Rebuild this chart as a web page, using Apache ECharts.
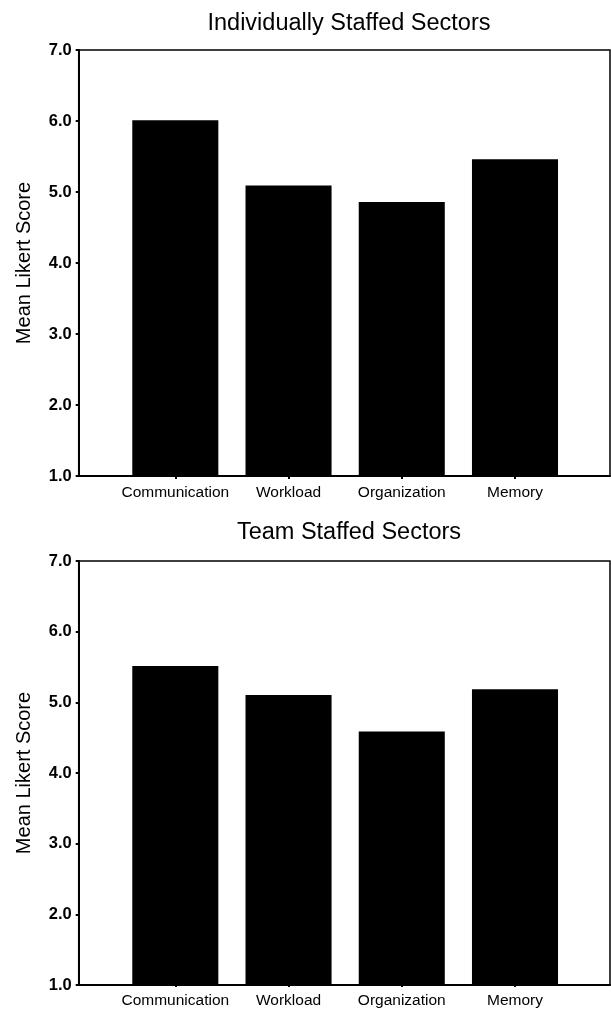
<!DOCTYPE html>
<html>
<head>
<meta charset="utf-8">
<script src="https://cdn.jsdelivr.net/npm/echarts@6/dist/echarts.min.js"></script>
<style>
html,body{margin:0;padding:0;background:#fff;}
#c{width:611px;height:1009px;}
</style>
</head>
<body>
<div id="c"></div>
<script>
var categories = ['Communication', 'Workload', 'Organization', 'Memory'];
var individualValues = [6.01, 5.09, 4.86, 5.46];
var teamValues = [5.51, 5.10, 4.58, 5.18];
var titles = ['Individually Staffed Sectors', 'Team Staffed Sectors'];
var yAxisName = 'Mean Likert Score';
var yMin = 1, yMax = 7, yStep = 1;

var FONT = '"Liberation Sans", Arial, sans-serif';
var chart = echarts.init(document.getElementById('c'), null, {renderer: 'canvas'});

var panels = [
  {top: 50, height: 426, titleTop: 7, values: individualValues},
  {top: 561, height: 424, titleTop: 516, values: teamValues}
];

var grids = [], xAxes = [], yAxes = [], series = [], titleOpts = [];
panels.forEach(function (p, i) {
  var outerIdx = grids.length;
  grids.push({left: 78.7, right: 1, top: p.top, height: p.height,
    show: true, borderColor: '#000', borderWidth: 1.5, backgroundColor: 'transparent'});
  var innerIdx = grids.length;
  grids.push({left: 118.7, width: 452.9, top: p.top, height: p.height});

  xAxes.push({gridIndex: outerIdx, type: 'value', min: 0, max: 1,
    axisLine: {show: true, lineStyle: {color: '#000', width: 2}},
    axisTick: {show: false}, axisLabel: {show: false}, splitLine: {show: false}});
  yAxes.push({gridIndex: outerIdx, type: 'value', min: yMin, max: yMax, interval: yStep,
    name: yAxisName, nameLocation: 'middle', nameRotate: 90, nameGap: 44,
    nameTextStyle: {fontFamily: FONT, fontSize: 20, color: '#000'},
    axisLine: {show: true, lineStyle: {color: '#000', width: 2}},
    axisTick: {show: true, length: 3, lineStyle: {color: '#000', width: 2}},
    axisLabel: {margin: 7, fontFamily: FONT, fontSize: 16.5, fontWeight: 'bold', color: '#000',
      formatter: function (v) { return v.toFixed(1); }},
    splitLine: {show: false}});

  xAxes.push({gridIndex: innerIdx, type: 'category', data: categories,
    axisLine: {show: false},
    axisTick: {show: true, alignWithLabel: true, length: 3, lineStyle: {color: '#000', width: 2}},
    axisLabel: {interval: 0, margin: 9, fontFamily: FONT, fontSize: 15.5, color: '#000'},
    splitLine: {show: false}});
  yAxes.push({gridIndex: innerIdx, type: 'value', min: yMin, max: yMax, show: false});

  series.push({type: 'bar', xAxisIndex: xAxes.length - 1, yAxisIndex: yAxes.length - 1,
    data: p.values, barWidth: '76%', itemStyle: {color: '#000'}, silent: true});

  titleOpts.push({text: titles[i], left: 344, top: p.titleTop, textAlign: 'center',
    textStyle: {fontFamily: FONT, fontSize: 23.5, fontWeight: 'normal', color: '#000'}});
});

chart.setOption({
  animation: false,
  backgroundColor: '#fff',
  title: titleOpts,
  grid: grids,
  xAxis: xAxes,
  yAxis: yAxes,
  series: series
});
</script>
</body>
</html>
